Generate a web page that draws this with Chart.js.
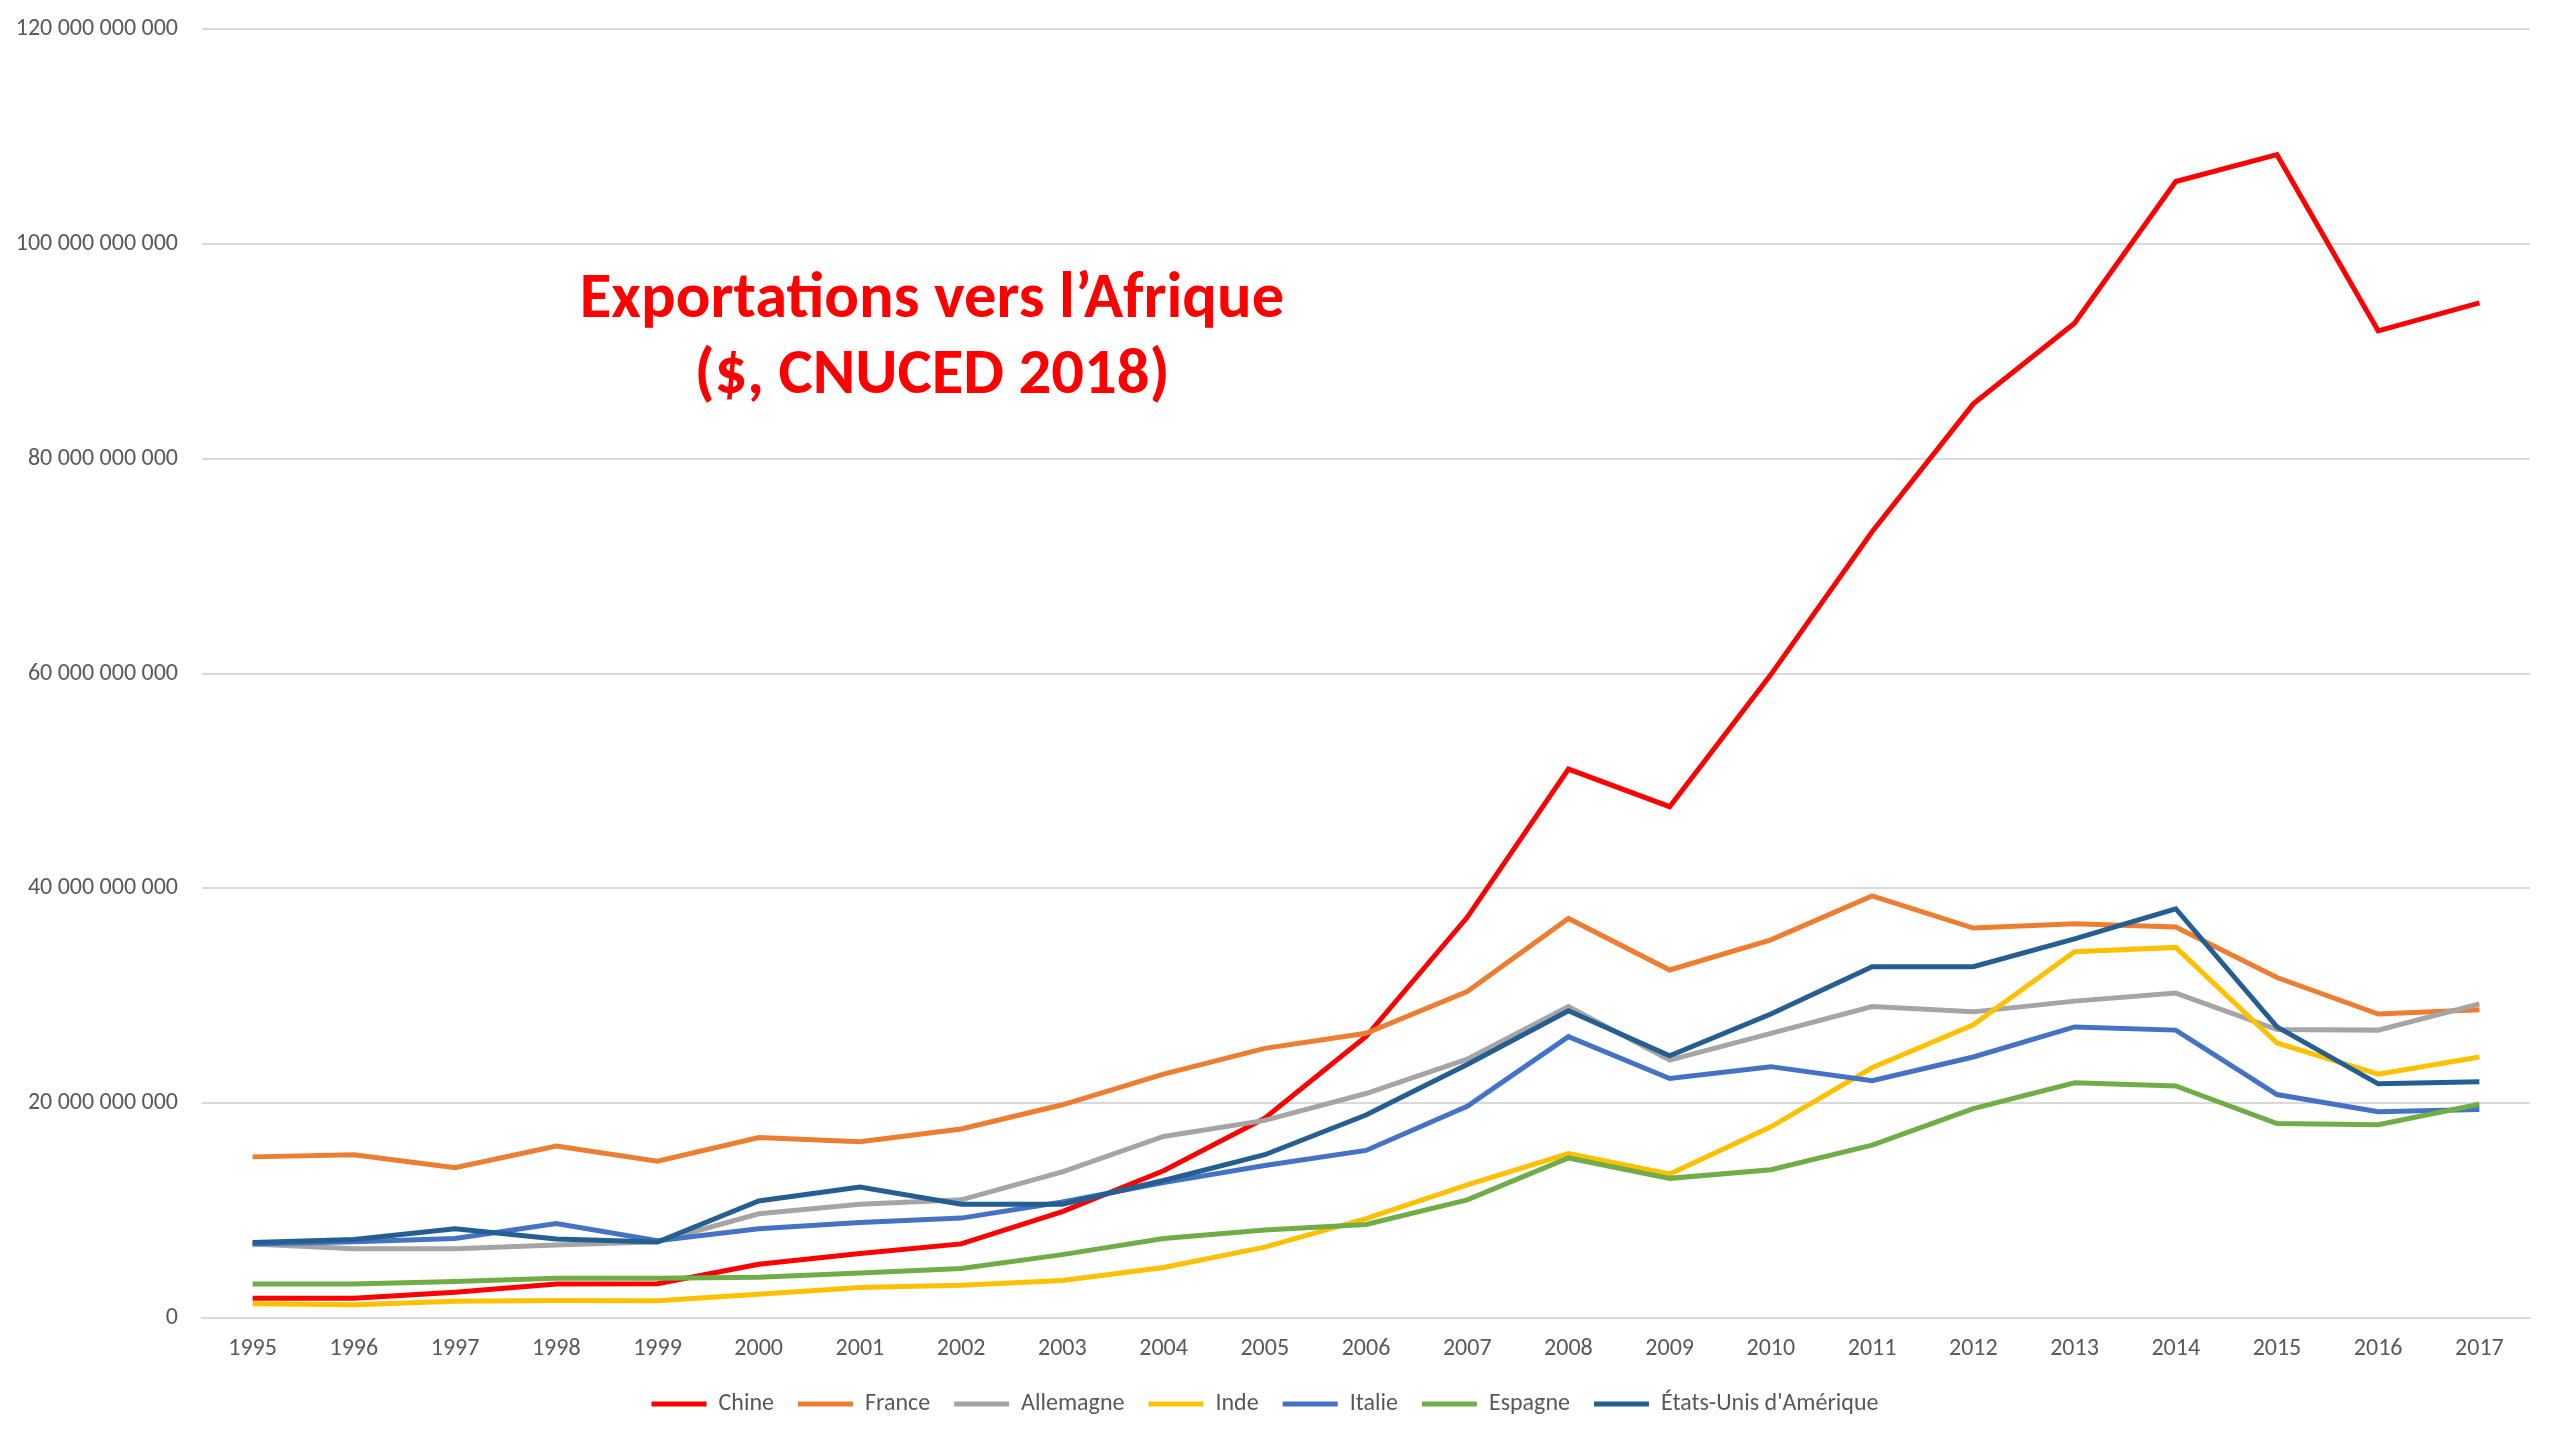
<!DOCTYPE html>
<html>
<head>
<meta charset="utf-8">
<script src="https://cdn.jsdelivr.net/npm/chart.js@4/dist/chart.umd.min.js"></script>
<style>
  html, body { margin: 0; padding: 0; background: #fff; }
  #wrap { width: 2560px; height: 1440px; position: relative; }
</style>
</head>
<body>
<div id="wrap"><canvas id="c" width="2560" height="1440"></canvas></div>
<script>
const years = ['1995','1996','1997','1998','1999','2000','2001','2002','2003','2004','2005','2006','2007','2008','2009','2010','2011','2012','2013','2014','2015','2016','2017'];
const B = 1e9;
const chine     = [1.83,1.83,2.4,3.16,3.2,5.0,6.0,6.9,9.9,13.7,18.6,26.2,37.3,51.1,47.6,59.9,73.2,85.1,92.6,105.8,108.3,91.9,94.5];
const france    = [15.0,15.2,14.0,16.0,14.6,16.8,16.4,17.6,19.85,22.7,25.1,26.5,30.4,37.2,32.4,35.2,39.3,36.3,36.7,36.4,31.7,28.3,28.7];
const allemagne = [6.9,6.45,6.45,6.8,7.1,9.7,10.6,11.0,13.6,16.9,18.4,20.9,24.1,29.0,24.0,26.5,29.0,28.5,29.5,30.25,26.85,26.8,29.25];
const inde      = [1.33,1.24,1.55,1.64,1.6,2.2,2.85,3.04,3.5,4.7,6.6,9.25,12.4,15.3,13.4,17.8,23.3,27.3,34.1,34.5,25.6,22.7,24.3];
const italie    = [6.9,7.1,7.4,8.8,7.2,8.3,8.9,9.3,10.8,12.6,14.2,15.6,19.7,26.2,22.3,23.4,22.1,24.3,27.1,26.8,20.8,19.2,19.4];
const espagne   = [3.16,3.16,3.4,3.7,3.7,3.8,4.2,4.6,5.9,7.4,8.2,8.7,11.0,14.9,13.0,13.8,16.1,19.5,21.9,21.6,18.1,18.0,19.9];
const usa       = [7.04,7.3,8.3,7.35,7.07,10.9,12.2,10.6,10.6,12.8,15.2,18.9,23.6,28.6,24.4,28.3,32.7,32.7,35.3,38.1,27.1,21.8,22.0];
const seriesNames = ['Chine','France','Allemagne','Inde','Italie','Espagne',"États-Unis d'Amérique"];
const seriesColors = ['#FF0000','#ED7D31','#A5A5A5','#FFC000','#4472C4','#70AD47','#255E91'];
const seriesData = [chine, france, allemagne, inde, italie, espagne, usa];
const titleLines = ['Exportations vers l’Afrique', '($, CNUCED 2018)'];

const FONT = "Carlito, 'Liberation Sans', Arial, sans-serif";

const titlePlugin = {
  id: 'innerTitle',
  afterLayout(chart) {
    const x = chart.scales.x;
    x.bottom = x.top + 60;
  },
  afterDraw(chart) {
    const ctx = chart.ctx;
    ctx.save();
    ctx.fillStyle = '#FF0000';
    ctx.font = "bold 60px " + FONT;
    const w = ctx.measureText(titleLines[0]).width;
    const size = 60 * 704 / w;
    ctx.font = "bold " + size.toFixed(1) + "px " + FONT;
    ctx.textAlign = 'center';
    ctx.textBaseline = 'alphabetic';
    const cx = 932;
    const baselines = [317, 393];
    titleLines.forEach((t, i) => ctx.fillText(t, cx, baselines[i]));
    ctx.restore();
  }
};

function fmt(v) {
  return String(Math.round(v)).replace(/\B(?=(\d{3})+(?!\d))/g, ' ');
}

new Chart(document.getElementById('c'), {
  type: 'line',
  data: {
    labels: years,
    datasets: seriesData.map((d, i) => ({
      label: seriesNames[i],
      data: d.map(v => v * B),
      borderColor: seriesColors[i],
      backgroundColor: seriesColors[i],
      borderWidth: 5,
      pointRadius: 0,
      tension: 0,
      fill: false,
      order: seriesData.length - i
    }))
  },
  options: {
    responsive: false,
    animation: false,
    layout: { padding: { top: 29, right: 30, bottom: 14, left: 0 } },
    plugins: {
      title: { display: false },
      tooltip: { enabled: false },
      legend: {
        position: 'bottom',
        labels: {
          boxWidth: 55,
          boxHeight: 5,
          padding: 24,
          color: '#595959',
          font: { family: FONT, size: 24 },
          sort: (a, b) => a.datasetIndex - b.datasetIndex,
          generateLabels: (chart) => Chart.defaults.plugins.legend.labels.generateLabels(chart)
            .map(l => Object.assign(l, { lineWidth: 0, fillStyle: l.strokeStyle }))
        }
      }
    },
    scales: {
      x: {
        offset: true,
        afterFit: (s) => { s.height = 50; },
        grid: { display: false, drawTicks: false },
        border: { display: true, color: '#D9D9D9', width: 2 },
        ticks: { color: '#595959', font: { family: FONT, size: 24 }, padding: 17, maxRotation: 0, autoSkip: false }
      },
      y: {
        min: 0,
        max: 120 * B,
        afterFit: (s) => { s.width = 202; s.paddingTop = 0; s.paddingBottom = 0; },
        grid: { color: '#D9D9D9', lineWidth: 2, drawTicks: false },
        border: { display: false },
        ticks: {
          stepSize: 20 * B,
          padding: 24,
          color: '#595959',
          font: { family: FONT, size: 24 },
          callback: (v) => fmt(v)
        }
      }
    }
  },
  plugins: [titlePlugin]
});
</script>
</body>
</html>
